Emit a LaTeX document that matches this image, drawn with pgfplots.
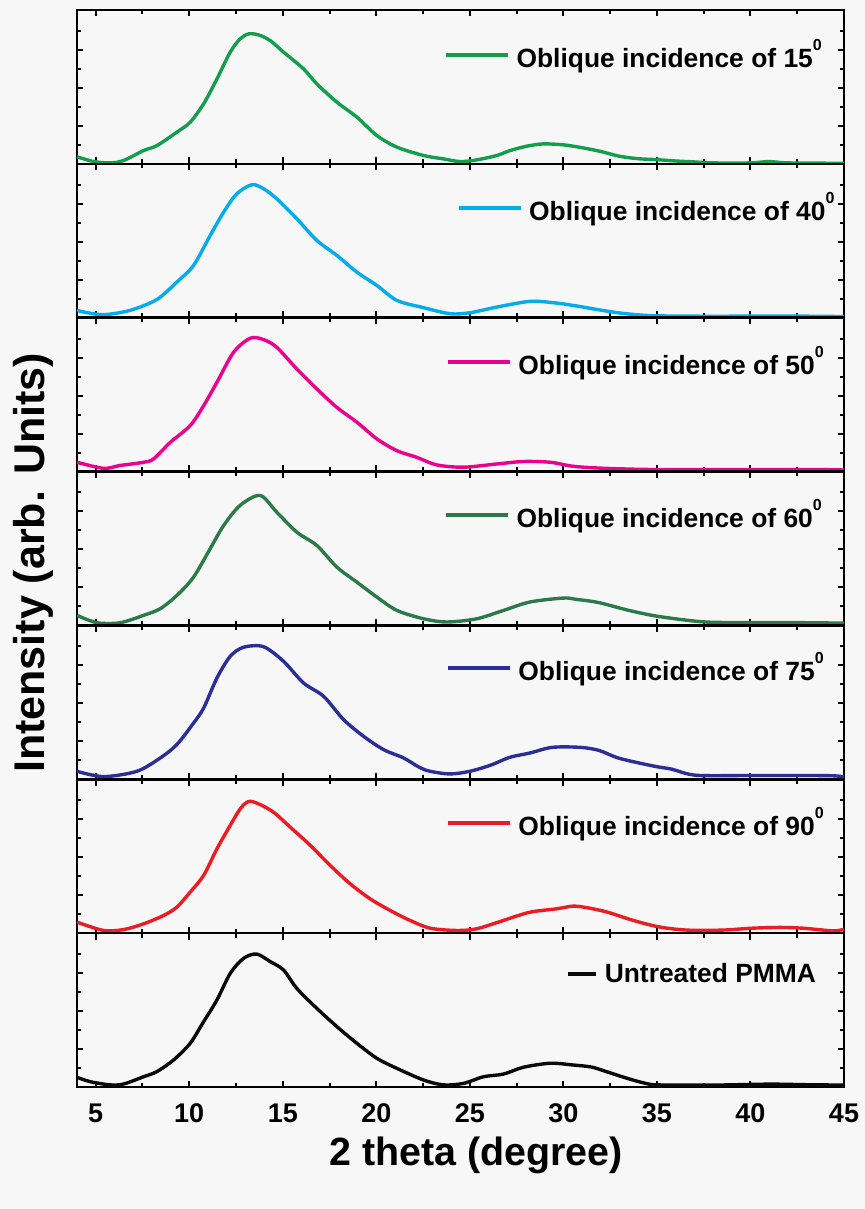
\documentclass[border=0pt]{standalone}
\usepackage{fontspec}
\setmainfont{Liberation Sans}
\usepackage{pgfplots}
\pgfplotsset{compat=1.18}
\definecolor{cA}{RGB}{18,158,74}
\definecolor{cB}{RGB}{0,172,236}
\definecolor{cC}{RGB}{234,0,140}
\definecolor{cD}{RGB}{44,122,74}
\definecolor{cE}{RGB}{42,46,150}
\definecolor{cF}{RGB}{237,28,36}
\definecolor{cG}{RGB}{10,10,10}
\newcommand{\degsup}[1]{\raisebox{0.62em}{\fontsize{8}{8}\selectfont #1}}
\pgfplotsset{
  panel/.style={
    scale only axis, width=383.5pt, height=76.93pt, anchor=south west,
    xmin=4, xmax=45, ymin=0, ymax=8.1,
    xtick={5,10,...,45}, minor xtick={7.5,12.5,...,42.5},
    ytick={2,4,6}, minor ytick={1,3,5,7}, yticklabels={}, xticklabels={},
    tick align=inside, major tick length=3.2pt, minor tick length=2.2pt,
    axis line style={line width=1.3pt},
    every tick/.style={line width=1pt, black},
    every axis plot/.append style={line width=1.7pt, smooth, tension=0.5},
    legend cell align=left,
    legend style={draw=none, fill=none, anchor=east, inner sep=0pt, outer sep=0pt,
      font=\fontsize{13.2}{15}\selectfont\bfseries,
      nodes={inner sep=0pt},
      /tikz/every odd column/.append style={column sep=3.5pt}},
    legend image code/.code={\draw[##1,line width=1.6pt] (0pt,0pt) -- (31pt,0pt);},
  }
}
\begin{document}
\begin{tikzpicture}
\fill[black!3] (0,0) rectangle (432.5pt,604.5pt);
\path[use as bounding box] (0,0) rectangle (432.5pt,604.5pt);

% Panel 1: 15 deg
\begin{axis}[panel, at={(38.5pt,522.57pt)}, legend style={at={(0.971,0.7075)}}]
\addplot[cA] coordinates {
(4,0.37) (4.9,0.12) (5.8,0.05) (6.5,0.18) (7.56,0.70) (8.27,0.96) (9.34,1.67)
(10.05,2.19) (10.77,3.16) (11.48,4.47) (12.19,5.88) (12.72,6.58) (13.17,6.84)
(13.7,6.79) (14.33,6.49) (15.04,5.88) (16.11,5.0) (16.82,4.21) (17.89,3.25)
(18.96,2.46) (20.03,1.49) (21.1,0.88) (22.52,0.44) (23.59,0.26) (24.48,0.12)
(25.37,0.21) (26.44,0.44) (27.15,0.70) (28.04,0.93) (28.93,1.05) (30.0,1.0)
(31,0.85) (32,0.65) (33,0.40) (34,0.27) (35,0.22) (36,0.15) (37,0.10) (38,0.05)
(40,0.05) (41,0.12) (42,0.05) (45,0.03)};
\addlegendentry{Oblique incidence of 15\degsup{0}}
\end{axis}

% Panel 2: 40 deg
\begin{axis}[panel, at={(38.5pt,445.64pt)}, legend style={at={(0.9875,0.713)}}]
\addplot[cB] coordinates {
(4,0.39) (4.36,0.30) (5.42,0.16) (6.85,0.39) (8.27,0.96) (9.34,1.88) (10.23,2.75)
(11.12,4.33) (11.84,5.56) (12.55,6.53) (13.35,7.0) (13.97,6.79) (14.68,6.26)
(15.75,5.21) (16.82,4.07) (17.89,3.28) (18.96,2.40) (20.03,1.70) (21.1,0.91)
(22.52,0.53) (23.94,0.21) (25.0,0.26) (26.44,0.56) (28.2,0.86) (29.46,0.79)
(30.5,0.65) (32,0.40) (33,0.25) (34,0.15) (35,0.10) (37,0.08) (40,0.08) (43,0.08) (45,0.06)};
\addlegendentry{Oblique incidence of 40\degsup{0}}
\end{axis}

% Panel 3: 50 deg
\begin{axis}[panel, at={(38.5pt,368.71pt)}, legend style={at={(0.9735,0.712)}}]
\addplot[cC] coordinates {
(4,0.49) (5.42,0.17) (6.3,0.32) (7.56,0.49) (8.1,0.67) (8.99,1.54) (10.05,2.42)
(10.77,3.47) (11.48,4.70) (12.37,6.28) (13.26,7.02) (13.97,6.95) (14.68,6.54)
(15.75,5.40) (16.82,4.35) (17.89,3.38) (18.96,2.60) (20.03,1.72) (21.1,1.10)
(22.16,0.75) (23.23,0.35) (24.66,0.23) (26.44,0.40) (27.86,0.53) (29.3,0.49)
(30.5,0.28) (32,0.18) (34,0.12) (36,0.10) (40,0.10) (44,0.10) (45,0.08)};
\addlegendentry{Oblique incidence of 50\degsup{0}}
\end{axis}

% Panel 4: 60 deg
\begin{axis}[panel, at={(38.5pt,291.79pt)}, legend style={at={(0.971,0.718)}}]
\addplot[cD] coordinates {
(4,0.53) (5.07,0.14) (6.3,0.14) (7.56,0.53) (8.45,0.88) (9.34,1.58) (10.23,2.54)
(11.12,4.04) (11.84,5.26) (12.72,6.32) (13.79,6.84) (14.68,5.96) (15.75,4.91)
(16.82,4.21) (17.89,3.07) (18.96,2.28) (20.03,1.49) (21.1,0.79) (22.52,0.35)
(23.77,0.18) (25.37,0.35) (26.8,0.79) (28.2,1.23) (30.0,1.44) (30.7,1.37)
(31.9,1.2) (33.5,0.79) (35.1,0.47) (37.3,0.2) (39,0.15) (42,0.15) (45,0.12)};
\addlegendentry{Oblique incidence of 60\degsup{0}}
\end{axis}

% Panel 5: 75 deg
\begin{axis}[panel, at={(38.5pt,214.86pt)}, legend style={at={(0.9735,0.723)}}]
\addplot[cE] coordinates {
(4,0.42) (5.42,0.14) (7.2,0.42) (8.45,1.12) (9.34,1.83) (10.23,2.96) (10.77,3.75)
(11.48,5.33) (12.19,6.47) (12.9,6.95) (13.97,6.98) (15.04,6.21) (16.11,5.07)
(17.18,4.37) (18.25,3.14) (19.32,2.26) (20.39,1.56) (21.46,1.12) (22.3,0.63)
(22.88,0.42) (23.94,0.28) (25.0,0.42) (26.1,0.74) (27.15,1.16) (28.2,1.38)
(29.4,1.68) (30.9,1.68) (31.9,1.52) (33,1.10) (34.8,0.70) (35.8,0.53) (37.1,0.21)
(40,0.20) (43,0.20) (44.5,0.18) (45,0.12)};
\addlegendentry{Oblique incidence of 75\degsup{0}}
\end{axis}

% Panel 6: 90 deg
\begin{axis}[panel, at={(38.5pt,137.93pt)}, legend style={at={(0.9735,0.716)}}]
\addplot[cF] coordinates {
(4,0.58) (5.42,0.14) (6.5,0.19) (7.56,0.49) (8.63,0.93) (9.34,1.37) (10.05,2.16)
(10.77,3.04) (11.48,4.44) (12.19,5.67) (12.72,6.54) (13.17,6.93) (13.7,6.81)
(14.5,6.37) (15.4,5.58) (16.47,4.62) (17.54,3.56) (18.6,2.60) (19.68,1.80)
(20.75,1.19) (21.8,0.67) (22.88,0.26) (24.3,0.14) (25.37,0.23) (26.8,0.67)
(28.2,1.10) (29.64,1.28) (30.5,1.42) (31.2,1.35) (32.3,1.12) (33.7,0.68)
(35.1,0.33) (36.6,0.16) (38.5,0.16) (40.1,0.26) (41.6,0.30) (42.8,0.26) (44.4,0.12) (45,0.20)};
\addlegendentry{Oblique incidence of 90\degsup{0}}
\end{axis}

% Panel 7: untreated
\begin{axis}[panel, at={(38.5pt,61pt)}, legend style={at={(0.9635,0.734)}},
  xticklabels={5,10,15,20,25,30,35,40,45},
  xticklabel style={font=\fontsize{13.5}{14}\selectfont\bfseries, yshift=-5pt},
  /pgf/number format/assume math mode=true,
  legend image code/.code={\draw[#1,line width=1.6pt] (0pt,0pt) -- (14pt,0pt);}]
\addplot[cG] coordinates {
(4,0.51) (4.71,0.28) (5.78,0.11) (6.5,0.16) (7.56,0.54) (8.27,0.81) (9.16,1.42)
(10.05,2.30) (10.77,3.44) (11.48,4.58) (12.19,5.98) (12.9,6.77) (13.6,7.0)
(14.33,6.60) (15.04,6.16) (15.75,5.19) (16.82,4.14) (17.89,3.18) (18.96,2.30)
(20.03,1.51) (21.1,0.98) (22.52,0.37) (23.59,0.11) (24.66,0.19) (25.73,0.54)
(26.8,0.68) (27.86,1.04) (29.3,1.25) (30.5,1.16) (31.5,1.05) (32.3,0.81)
(33.4,0.46) (34.4,0.19) (35.1,0.11) (38,0.10) (41,0.15) (43,0.12) (45,0.10)};
\addlegendentry{Untreated PMMA}
\end{axis}

\node[rotate=90, font=\fontsize{21.5}{24}\selectfont\bfseries] at (16.5pt,323pt) {Intensity (arb. Units)};
\node[font=\fontsize{19.7}{22}\selectfont\bfseries] at (238pt,27pt) {2 theta (degree)};
\end{tikzpicture}
\end{document}
